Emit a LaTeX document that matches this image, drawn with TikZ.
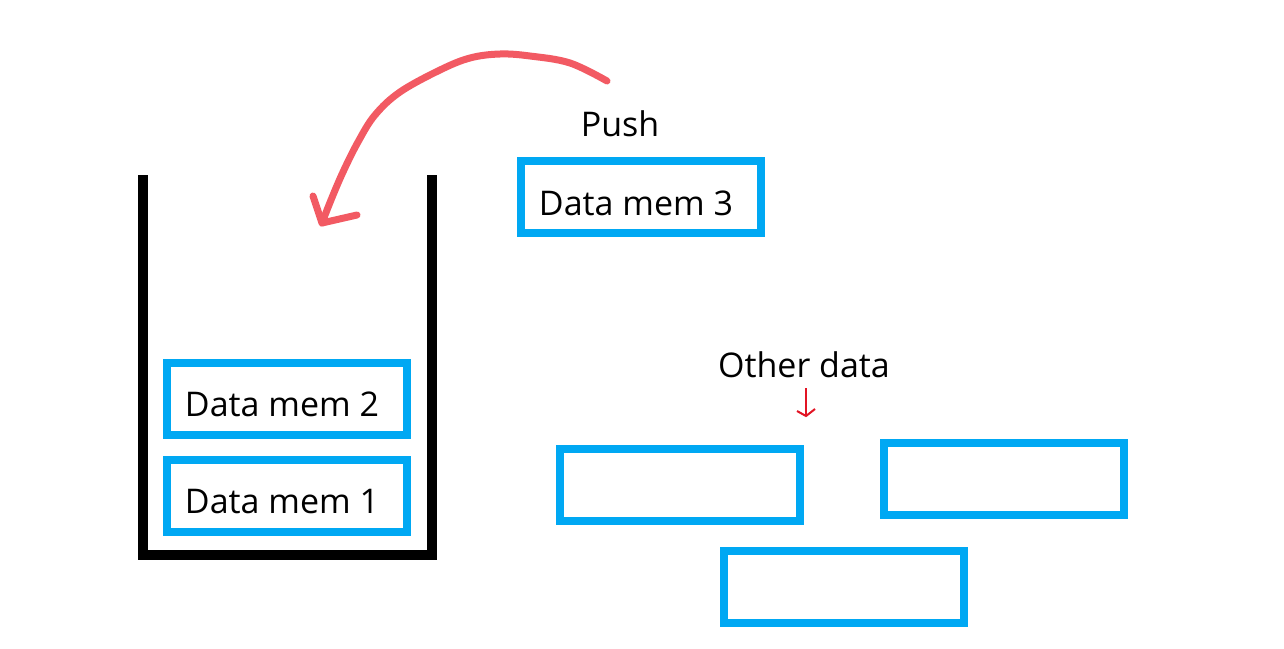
\documentclass[tikz,border=0pt]{standalone}
\usepackage{fontspec}
\setmainfont{Open Sans}
\usetikzlibrary{positioning}
\definecolor{boxblue}{RGB}{0,168,243}
\definecolor{pushred}{RGB}{242,90,99}
\definecolor{markred}{RGB}{226,20,36}

\begin{document}
\begin{tikzpicture}[x=1pt, y=-1pt, >=stealth, font=\fontsize{34}{40}\selectfont,
  mem box/.style={draw=boxblue, line width=8pt, minimum width=240pt,
    minimum height=72pt, inner sep=0pt},
  mem text/.style={xshift=-5pt, yshift=-6pt, inner sep=0pt},
  push line/.style={pushred, line width=7pt, line cap=round, line join=round}]

\useasboundingbox (0,0) rectangle (1284,648);

% the stack
\draw [line width=10pt] (143,175) -- (143,555) -- (432,555) -- (432,175);

\foreach \l/\y in {1/495.5, 2/398.5}
  \node [mem box, label={[mem text]center:Data mem \l}] (mem-\l) at (287,\y) {};

\node [mem box, label={[mem text]center:Data mem 3}] (mem-3) at (641,197) {};
\node (push) at (620,124) {Push};

% other data
\node (other) at (804,365) {Other data};

\foreach \p [count=\i] in {{(679.5,485)}, {(1004,479)}, {(844,587)}}
  \node [mem box] (other-\i) at \p {};

\coordinate (mark-top) at (806,388);
\coordinate (mark-tip) at (806,416);
\draw [markred, line width=2.2pt] (mark-top) -- (mark-tip);
\draw [markred, line width=2pt] (797,411) -- (mark-tip) -- (815,409);

% the push arrow
\coordinate (push-start) at (607,81);
\coordinate (push-tip) at (322,223);
\draw [push line] plot [smooth, tension=0.6] coordinates {(607,81) (570,63) (530,56)
  (500,54) (470,58) (440,70) (400,92) (375,115) (358,142) (343,172) (331,200) (322,223)};
\draw [push line] (313,196) -- (push-tip) -- (357,215);

\end{tikzpicture}
\end{document}
